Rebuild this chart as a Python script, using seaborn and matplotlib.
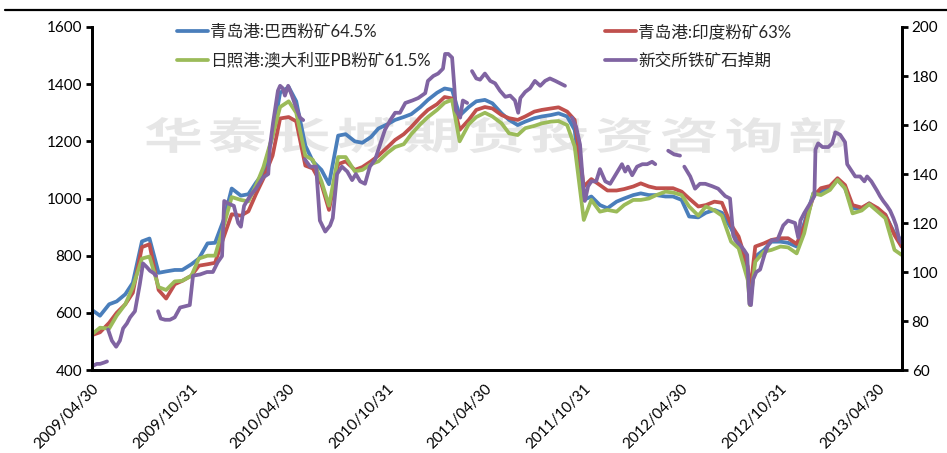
import numpy as np
import pandas as pd
import matplotlib
matplotlib.use("Agg")
import matplotlib.pyplot as plt
from matplotlib.lines import Line2D
from matplotlib.textpath import TextPath
from matplotlib.patches import PathPatch
from matplotlib.font_manager import FontProperties
from matplotlib.transforms import Affine2D
import seaborn as sns

# port spot prices (left axis), semi-monthly readings
port_dates = [
    "2009-04-30", "2009-05-15", "2009-06-01", "2009-06-15", "2009-07-01", "2009-07-15",
    "2009-08-01", "2009-08-15", "2009-09-01", "2009-09-15", "2009-10-01", "2009-10-15",
    "2009-11-01", "2009-11-15", "2009-12-01", "2009-12-15",
    "2010-01-01", "2010-01-15", "2010-02-01", "2010-02-15", "2010-03-01", "2010-03-15",
    "2010-04-01", "2010-04-15", "2010-05-01", "2010-05-15", "2010-06-01", "2010-06-15",
    "2010-07-01", "2010-07-15", "2010-08-01", "2010-08-15", "2010-09-01", "2010-09-15",
    "2010-10-01", "2010-10-15", "2010-11-01", "2010-11-15", "2010-12-01", "2010-12-15",
    "2011-01-01", "2011-01-15", "2011-02-01", "2011-02-15", "2011-03-01", "2011-03-15",
    "2011-04-01", "2011-04-15", "2011-05-01", "2011-05-15", "2011-06-01", "2011-06-15",
    "2011-07-01", "2011-07-15", "2011-08-01", "2011-08-15", "2011-09-01", "2011-09-15",
    "2011-10-01", "2011-10-15", "2011-11-01", "2011-11-15", "2011-12-01", "2011-12-15",
    "2012-01-01", "2012-01-15", "2012-02-01", "2012-02-15", "2012-03-01", "2012-03-15",
    "2012-04-01", "2012-04-15", "2012-05-01", "2012-05-15", "2012-06-01", "2012-06-15",
    "2012-07-01", "2012-07-15", "2012-08-01", "2012-08-15", "2012-09-01", "2012-09-05",
    "2012-09-15", "2012-10-01", "2012-10-15", "2012-11-01", "2012-11-15", "2012-12-01",
    "2012-12-15", "2013-01-01", "2013-01-15", "2013-02-01", "2013-02-15", "2013-03-01",
    "2013-03-15", "2013-04-01", "2013-04-15", "2013-05-01", "2013-05-15", "2013-06-01",
    "2013-06-14",
]
brazil_645 = [
    610, 590, 630, 640, 665, 705, 850, 860, 740, 745, 750, 750, 770, 790, 843, 845,
    930, 1035, 1010, 1015, 1055, 1090, 1220, 1370, 1390, 1340, 1185, 1130,
    1100, 1050, 1220, 1225, 1200, 1195, 1215, 1245, 1260, 1275, 1285, 1295,
    1320, 1345, 1370, 1385, 1380, 1290, 1320, 1340, 1345, 1333, 1298, 1275,
    1257, 1269, 1281, 1287, 1292, 1298, 1287, 1240, 995, 1007, 977, 966,
    989, 1000, 1012, 1018, 1012, 1012, 1007, 1007, 995, 937, 934, 950,
    960, 950, 896, 838, 738, 633, 797, 820, 849, 849, 845, 832,
    913, 1018, 1024, 1036, 1065, 1036, 966, 963, 983, 960, 943, 878, 855,
]
india_63 = [
    522, 532, 565, 600, 630, 670, 830, 840, 680, 650, 700, 712, 730, 765, 770, 775,
    870, 945, 940, 955, 1015, 1070, 1150, 1280, 1285, 1270, 1115, 1105,
    1050, 960, 1120, 1130, 1100, 1110, 1130, 1150, 1180, 1205, 1225, 1250,
    1285, 1310, 1330, 1355, 1350, 1240, 1275, 1310, 1320, 1315, 1292, 1281,
    1275, 1287, 1304, 1310, 1315, 1319, 1304, 1275, 1042, 1068, 1047, 1028,
    1028, 1033, 1042, 1053, 1042, 1036, 1036, 1036, 1024, 1000, 972, 977,
    989, 985, 908, 867, 762, 668, 832, 843, 855, 861, 861, 841,
    902, 1007, 1036, 1044, 1071, 1047, 977, 968, 983, 966, 943, 872, 832,
]
pb_615 = [
    525, 548, 545, 590, 630, 690, 790, 797, 690, 680, 710, 712, 730, 790, 800, 800,
    910, 1005, 995, 990, 1045, 1110, 1220, 1320, 1340, 1300, 1150, 1135,
    1060, 975, 1145, 1145, 1095, 1100, 1120, 1130, 1160, 1180, 1190, 1225,
    1260, 1285, 1310, 1335, 1345, 1200, 1260, 1285, 1300, 1287, 1263, 1228,
    1222, 1246, 1254, 1263, 1269, 1271, 1257, 1182, 925, 995, 954, 960,
    954, 977, 995, 995, 1000, 1012, 1024, 1021, 1012, 972, 940, 972,
    958, 940, 849, 826, 715, 627, 779, 814, 820, 832, 829, 808,
    878, 1018, 1012, 1030, 1065, 1036, 948, 958, 980, 954, 931, 820, 803,
]

# SGX iron ore swap (right axis); NaN marks a break in the line
swap_dates = [
    "2009-04-30", "2009-05-09", "2009-05-15", "2009-05-22", "2009-05-28", "2009-05-29",
    "2009-05-30", "2009-06-06", "2009-06-14", "2009-06-21", "2009-06-27", "2009-07-04",
    "2009-07-10", "2009-07-19", "2009-07-28", "2009-08-03", "2009-08-10", "2009-08-16",
    "2009-08-23", "2009-08-27", "2009-08-29",
    "2009-08-31", "2009-09-05", "2009-09-13", "2009-09-22", "2009-10-01", "2009-10-11",
    "2009-10-20", "2009-10-29", "2009-11-04", "2009-11-17", "2009-11-30", "2009-12-11",
    "2009-12-20", "2009-12-28", "2010-01-01", "2010-01-08", "2010-01-19", "2010-01-27",
    "2010-02-01", "2010-02-07", "2010-02-18", "2010-03-01", "2010-03-14", "2010-03-24",
    "2010-03-27", "2010-04-02", "2010-04-11", "2010-04-15", "2010-04-20", "2010-04-24",
    "2010-04-30", "2010-05-07", "2010-05-15", "2010-05-22", "2010-05-28", "2010-05-29",
    "2010-05-31", "2010-06-10", "2010-06-21", "2010-06-28", "2010-07-08", "2010-07-17",
    "2010-07-22", "2010-07-30", "2010-08-08", "2010-08-18", "2010-08-27", "2010-09-03",
    "2010-09-11", "2010-09-20", "2010-09-29", "2010-10-09", "2010-10-18", "2010-10-27",
    "2010-11-06", "2010-11-15", "2010-11-24", "2010-12-04", "2010-12-17", "2010-12-28",
    "2011-01-10", "2011-01-15", "2011-01-25", "2011-02-03", "2011-02-12", "2011-02-16",
    "2011-02-22", "2011-03-01", "2011-03-05", "2011-03-08", "2011-03-16", "2011-03-21",
    "2011-03-29", "2011-04-01",
    "2011-04-07", "2011-04-15", "2011-04-22", "2011-05-01", "2011-05-11", "2011-05-20",
    "2011-05-29", "2011-06-08", "2011-06-17", "2011-06-26", "2011-07-02", "2011-07-06",
    "2011-07-15", "2011-07-24", "2011-08-02", "2011-08-12", "2011-08-21", "2011-08-30",
    "2011-09-09", "2011-09-18", "2011-09-27", "2011-09-30",
    "2011-10-10", "2011-10-18", "2011-10-25", "2011-10-31", "2011-11-03", "2011-11-09",
    "2011-11-15", "2011-11-24", "2011-12-01", "2011-12-11", "2011-12-20", "2011-12-31",
    "2012-01-11", "2012-01-17", "2012-01-22", "2012-01-30", "2012-02-08", "2012-02-18",
    "2012-02-27", "2012-03-07", "2012-03-13", "2012-03-15",
    "2012-04-06", "2012-04-17", "2012-04-28", "2012-05-01",
    "2012-05-06", "2012-05-17", "2012-05-26", "2012-06-04", "2012-06-14", "2012-06-27",
    "2012-07-08", "2012-07-21", "2012-07-30", "2012-08-05", "2012-08-09", "2012-08-18",
    "2012-08-25", "2012-08-31", "2012-09-04", "2012-09-07", "2012-09-11", "2012-09-17",
    "2012-09-24", "2012-10-02", "2012-10-09", "2012-10-16", "2012-10-26", "2012-11-06",
    "2012-11-15", "2012-11-28", "2012-12-04", "2012-12-08", "2012-12-15", "2012-12-26",
    "2013-01-03", "2013-01-05", "2013-01-10", "2013-01-18", "2013-01-29", "2013-02-05",
    "2013-02-11", "2013-02-20", "2013-03-01", "2013-03-05", "2013-03-11", "2013-03-20",
    "2013-03-29", "2013-04-06", "2013-04-11", "2013-04-19", "2013-04-30", "2013-05-05",
    "2013-05-11", "2013-05-18", "2013-05-24", "2013-05-30", "2013-06-04", "2013-06-10",
    "2013-06-14",
]
swap_vals = [
    61.5, 62.5, 62.5, 63, 63.5, np.nan,
    76.5, 72, 69.5, 72, 77, 79,
    81.5, 84, 95, 103.5, 102, 100.5,
    99.5, 98.5, np.nan,
    84, 81, 80.5, 80.5, 81.5, 85.5,
    86, 86.5, 98.5, 99, 100, 100,
    104, 106.5, 129, 128, 127, 120,
    118.5, 127, 131, 134, 138.5, 140,
    151, 161, 174, 176, 175, 172,
    176, 172, 167, 163, 162, np.nan,
    146, 143, 143, 121, 116.5, 119,
    122, 140, 143, 141, 137.5, 140,
    137, 136, 143, 146, 152, 158,
    162, 165, 165, 169, 170, 171,
    173, 178, 180, 181, 183, 189,
    189, 187.5, 176, 166, 163, 170,
    169, np.nan,
    182, 179, 178.5, 181, 178, 177,
    174, 171.5, 172, 170, 165, 171,
    173.5, 175, 178, 176, 178, 179,
    178, 177, 176, np.nan,
    163, 159, 152, 135, 129, 135,
    137, 137, 142, 137, 136, 140,
    144, 141, 143, 139.5, 143, 144,
    144, 145, 144, np.nan,
    149.5, 148, 147.5, np.nan,
    143, 139, 134, 136, 136, 135,
    134, 131, 130, 115, 113, 111,
    109, 107, 87, 86.5, 97, 100,
    101, 107, 111, 113, 113, 119,
    121, 120, 114, 121, 124, 128,
    131, 150, 152.5, 151, 151, 152.5,
    157, 156, 153, 144, 142, 139,
    139, 137, 139, 137, 133, 131,
    129, 127, 125, 122, 119, 113,
    112,
]

series_names = ["青岛港:巴西粉矿64.5%", "青岛港:印度粉矿63%",
                "日照港:澳大利亚PB粉矿61.5%", "新交所铁矿石掉期"]
series_colors = ["#4A7EBB", "#C0504D", "#9BBB59", "#8064A2"]

tick_dates = ["2009-04-30", "2009-10-31", "2010-04-30", "2010-10-31", "2011-04-30",
              "2011-10-31", "2012-04-30", "2012-10-31", "2013-04-30"]
tick_labels = [d.replace("-", "/") for d in tick_dates]
watermark = "华泰长城期货投资咨询部"

sns.set_style("white")
plt.rcParams["font.family"] = ["Lato", "Noto Sans CJK SC", "DejaVu Sans"]

ports = pd.DataFrame({"date": pd.to_datetime(port_dates),
                      "brazil": brazil_645, "india": india_63, "pb": pb_615})
swap = pd.DataFrame({"date": pd.to_datetime(swap_dates), "val": swap_vals})
swap["seg"] = swap["val"].isna().cumsum()
swap = swap.dropna()

W, H = 947, 453
fig = plt.figure(figsize=(W / 100, H / 100), dpi=100)
ax = fig.add_axes([0.0971, 0.1832, 0.8554, 0.7572])
ax2 = ax.twinx()

lw = 2.7

# watermark: wide, light-grey glyphs behind the lines
wm_font = FontProperties(family="Noto Sans CJK SC", weight="bold")
for i, ch in enumerate(watermark):
    tp = TextPath((0, 0), ch, size=38, prop=wm_font)
    ext = tp.get_extents()
    cx, cy = 173 + i * 64.5, H - 135
    tr = (Affine2D().translate(-(ext.x0 + ext.x1) / 2, -(ext.y0 + ext.y1) / 2)
          .scale(1.55, 1.0).translate(cx, cy))
    fig.add_artist(PathPatch(tr.transform_path(tp), facecolor="#e6e6e6",
                             edgecolor="none", transform=None, zorder=0))

for col, c in zip(["brazil", "india", "pb"], series_colors[:3]):
    sns.lineplot(data=ports, x="date", y=col, color=c, lw=lw, ax=ax, legend=False)
sns.lineplot(data=swap, x="date", y="val", units="seg", estimator=None,
             color=series_colors[3], lw=lw, ax=ax2, legend=False)
ax.set_zorder(1)
ax2.set_zorder(2)
ax.patch.set_visible(False)

ax.set_xlim(pd.Timestamp("2009-04-30"), pd.Timestamp("2013-06-15"))
ax.set_ylim(400, 1600)
ax.set_yticks(range(400, 1601, 200))
ax2.set_ylim(60, 200)
ax2.set_yticks(range(60, 201, 20))
ax.set_xticks(pd.to_datetime(tick_dates))
ax.set_xticklabels(tick_labels, rotation=45, ha="right", rotation_mode="anchor")
ax.set_xlabel("")
ax.set_ylabel("")
ax2.set_ylabel("")

for a in (ax, ax2):
    a.spines["top"].set_visible(False)
    for s in ("left", "right", "bottom"):
        a.spines[s].set_linewidth(2.0)
        a.spines[s].set_color("black")
    a.tick_params(direction="out", length=4, width=2, colors="black", labelsize=11, pad=3)
ax.tick_params(axis="x", pad=4)

h = [Line2D([], [], color=c, lw=lw) for c in series_colors]
leg_kw = dict(frameon=False, fontsize=12, handlelength=1.85, handletextpad=0.15,
              labelspacing=0.75, borderpad=0, borderaxespad=0, loc="upper left")
fig.legend([h[0], h[2]], [series_names[0], series_names[2]],
           bbox_to_anchor=(177 / W, 1 - 24 / H), **leg_kw)
fig.legend([h[1], h[3]], [series_names[1], series_names[3]],
           bbox_to_anchor=(605 / W, 1 - 24 / H), **leg_kw)

fig.add_artist(Line2D([5 / W, 1], [1 - 10 / H] * 2, transform=fig.transFigure,
                      color="black", lw=1.6))

fig.savefig("out.png", dpi=100)
